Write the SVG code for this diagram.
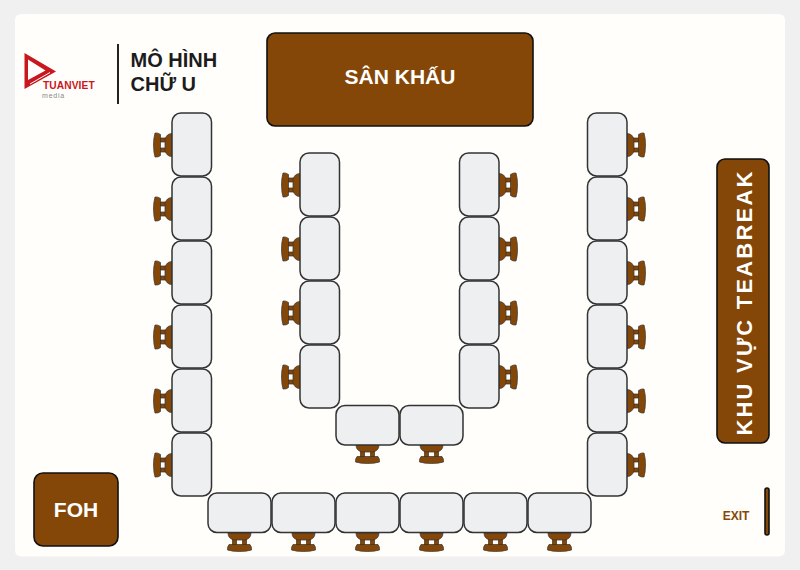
<svg xmlns="http://www.w3.org/2000/svg" xmlns:xlink="http://www.w3.org/1999/xlink" width="800" height="570" viewBox="0 0 800 570">
<style>
.t{fill:#eeeff0;stroke:#333;stroke-width:1.5}
.b{fill:#854708;stroke:#111;stroke-width:1.6}
.c{fill:#854708;stroke:#333;stroke-width:.7}
text{font-family:"Liberation Sans",Arial,sans-serif;font-weight:700}
</style>
<defs>
<g id="chair"><rect class="c" x="-7" y="5" width="4" height="7"/><rect class="c" x="3" y="5" width="4" height="7"/><path class="c" d="M-11.500 0h23q0 5.500-6 7h-11q-6-1.500-6-7z"/><path class="c" d="M-10.500 11.500h21q2 2.500 1.500 5.500-5 1.500-12 1.500t-12-1.500q-.5-3 1.500-5.500z"/></g>
<rect id="tv" class="t" width="39.500" height="63" rx="9"/>
<rect id="th" class="t" width="63" height="39.500" rx="9"/>
</defs>
<rect width="800" height="570" fill="#f0f0f1"/>
<rect x="15" y="14" width="770" height="542.500" rx="6" fill="#fffefb"/>
<g id="logo"><path d="M24.500 53 56 71.500 24.500 89Z M28 59.500V80L45.500 70.500Z" fill="#c8171f" fill-rule="evenodd"/><path d="M50 72.500 30 84" stroke="#fffefb" stroke-width="1"/><text x="43" y="89.300" font-size="10.200" letter-spacing=".1" fill="#c8171f">TUANVIET</text><text x="42" y="98" font-size="7" letter-spacing=".8" fill="#888" style="font-weight:400">media</text></g>
<g id="title"><rect x="117" y="44" width="2" height="60" fill="#222"/><text x="130.500" y="67" font-size="20" fill="#1c1c1c">MÔ HÌNH</text><text x="130.500" y="91" font-size="20" fill="#1c1c1c">CHỮ U</text></g>
<g id="stage"><rect class="b" x="267" y="33" width="266" height="93" rx="8"/><text x="400" y="84" font-size="21" fill="#fff" text-anchor="middle">SÂN KHẤU</text></g>
<g id="teabreak"><rect class="b" x="717" y="159" width="52" height="284" rx="8"/><text transform="translate(752 302.500) rotate(-90)" font-size="22" letter-spacing="2.200" fill="#fff" text-anchor="middle">KHU VỰC TEABREAK</text></g>
<g id="foh"><rect class="b" x="34" y="473" width="84" height="73" rx="9"/><text x="76" y="517" font-size="21" fill="#fff" text-anchor="middle">FOH</text></g>
<g id="exit"><text x="736" y="520" font-size="12" fill="#854708" text-anchor="middle">EXIT</text><rect class="b" x="765" y="488" width="4" height="47" rx="2"/></g>
<g id="seats">
<use href="#chair" transform="translate(172 145) rotate(90)"/><use href="#chair" transform="translate(172 209) rotate(90)"/><use href="#chair" transform="translate(172 273) rotate(90)"/><use href="#chair" transform="translate(172 337) rotate(90)"/><use href="#chair" transform="translate(172 401) rotate(90)"/><use href="#chair" transform="translate(172 465) rotate(90)"/>
<use href="#chair" transform="translate(627 145) rotate(-90)"/><use href="#chair" transform="translate(627 209) rotate(-90)"/><use href="#chair" transform="translate(627 273) rotate(-90)"/><use href="#chair" transform="translate(627 337) rotate(-90)"/><use href="#chair" transform="translate(627 401) rotate(-90)"/><use href="#chair" transform="translate(627 465) rotate(-90)"/>
<use href="#chair" transform="translate(300 185) rotate(90)"/><use href="#chair" transform="translate(300 249) rotate(90)"/><use href="#chair" transform="translate(300 313) rotate(90)"/><use href="#chair" transform="translate(300 377) rotate(90)"/>
<use href="#chair" transform="translate(499 185) rotate(-90)"/><use href="#chair" transform="translate(499 249) rotate(-90)"/><use href="#chair" transform="translate(499 313) rotate(-90)"/><use href="#chair" transform="translate(499 377) rotate(-90)"/>
<use href="#chair" transform="translate(367.500 445)"/><use href="#chair" transform="translate(431.500 445)"/>
<use href="#chair" transform="translate(239.500 533)"/><use href="#chair" transform="translate(303.500 533)"/><use href="#chair" transform="translate(367.500 533)"/><use href="#chair" transform="translate(431.500 533)"/><use href="#chair" transform="translate(495.500 533)"/><use href="#chair" transform="translate(559.500 533)"/>
</g>
<g id="tables">
<use href="#tv" x="172" y="113"/><use href="#tv" x="172" y="177"/><use href="#tv" x="172" y="241"/><use href="#tv" x="172" y="305"/><use href="#tv" x="172" y="369"/><use href="#tv" x="172" y="433"/>
<use href="#tv" x="587.500" y="113"/><use href="#tv" x="587.500" y="177"/><use href="#tv" x="587.500" y="241"/><use href="#tv" x="587.500" y="305"/><use href="#tv" x="587.500" y="369"/><use href="#tv" x="587.500" y="433"/>
<use href="#tv" x="300" y="153"/><use href="#tv" x="300" y="217"/><use href="#tv" x="300" y="281"/><use href="#tv" x="300" y="345"/>
<use href="#tv" x="459.500" y="153"/><use href="#tv" x="459.500" y="217"/><use href="#tv" x="459.500" y="281"/><use href="#tv" x="459.500" y="345"/>
<use href="#th" x="336" y="405.500"/><use href="#th" x="400" y="405.500"/>
<use href="#th" x="208" y="493"/><use href="#th" x="272" y="493"/><use href="#th" x="336" y="493"/><use href="#th" x="400" y="493"/><use href="#th" x="464" y="493"/><use href="#th" x="528" y="493"/>
</g>
</svg>
